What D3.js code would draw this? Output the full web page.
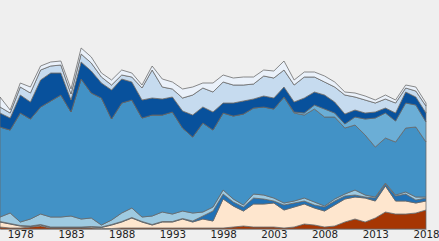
<!DOCTYPE html>
<html><head><meta charset="utf-8">
<script src="https://cdn.jsdelivr.net/npm/d3@7"></script>
<style>html,body{margin:0;padding:0;background:#efefef;}svg{display:block;}</style>
</head><body>
<svg id="chart" width="439" height="241"></svg>
<script>
const years = [1976,1977,1978,1979,1980,1981,1982,1983,1984,1985,1986,1987,1988,1989,1990,1991,1992,1993,1994,1995,1996,1997,1998,1999,2000,2001,2002,2003,2004,2005,2006,2007,2008,2009,2010,2011,2012,2013,2014,2015,2016,2017,2018];
const tickYears = [1978,1983,1988,1993,1998,2003,2008,2013,2018];

const seriesNames = ["s1","s2","s3","s4","s5","s6","s7","s8","s9"];
const s1 = [2,1,1,2,3,1,1,1,1,1,0.5,0.5,1,1,1,1,1,1,1,1,1,1,1,2,3,2,2,2,1,2,5,4,2,3,7,10,7,11,17,15,15,16,19];
const s2 = [5,4,2,0.5,1,0.5,0.5,0.5,0.5,1,1,3.5,6,10,6,3,6,6,9,6,9,7,29,21,15,23,23,24,18,20,20,17,16,21,23,22,24,17,26,13,13,10,9];
const s3 = [0.5,0.5,0.5,0.5,0.5,0.5,0.5,0.5,0.5,0.5,0.5,0.5,0.5,0.5,0.5,0.5,0.5,0.5,0.5,1,3,10,5,4,4,6,5,2,5,4,3,3,4,4,3,2,1,3,2,5,7,3,3];
const s4 = [4.5,10.5,3.5,7,10.5,10,10,11,8,8.5,2,4.5,8.5,9.5,4.5,8.5,9.5,7.5,7.5,8,4,4,4,3,2,4,4,3,2,2,3,3,1,2,2,5,2,1,1,1,2,3,1];
const s5 = [90,83,109,100,107,116,122,104,140,125,127,101,110,108,99,101,97,102,83,76,89,77,77,83,91,86,88,89,106,88,83,93,89,82,66,65,60,50,45,53,64,70,55];
const s6 = [0,0,0,0,0,0,0,0,0,0,0,0,0,0,0,0,0,0,0,0,0,0,0,0,0,0,0,0,0,1,2,4,8,4,4,8,16,29,25,21,25,22,20];
const s7 = [14,12,18,17,27,28,22,12,17,22,15,29,24,18,18,17,16,15,17,22,16,18,10,13,13,9,11,11,10,10,15,13,14,11,10,7,6,6,5,8,11,8,9];
const s8 = [6,5,8,9,10,7,8,6,8,8,6,5,4,5,12,28,12,8,13,20,19,20,21,18,16,15,20,20,17,17,21,15,13,15,19,13,13,9,9,10,4,6,7];
const s9 = [10,3,4,6,4,4,4,5,6,6,4,5,5,4,3,4,8,7,9,8,5,9,7,7,8,7,6,7,9,5,5,5,6,5,3,4,4,3,4,3,3,4,3];
const colors = ["#a63603","#fee6ce","#2171b5","#9ecae1","#4292c6","#6baed6","#08519c","#c6dbef","#eaf1fa"];

const seriesValues = [s1,s2,s3,s4,s5,s6,s7,s8,s9];
const table = years.map((yr,i) => {
  const row = {year: yr};
  seriesNames.forEach((n,k) => row[n] = seriesValues[k][i]);
  return row;
});

const svg = d3.select("#chart");
const x = d3.scaleLinear().domain([1976, 2018]).range([0, 426]);
const y = d3.scaleLinear().domain([0, 229]).range([229, 0]);

const stack = d3.stack().keys(seriesNames);
const layers = stack(table);

const area = d3.area()
  .x(d => x(d.data.year))
  .y0(d => y(d[0]))
  .y1(d => y(d[1]));

svg.append("g").selectAll("path").data(layers).join("path")
  .attr("d", area)
  .attr("fill", (d,i) => colors[i])
  .attr("stroke", "#666")
  .attr("stroke-width", 0.75)
  .attr("stroke-linejoin", "round");

const axis = d3.axisBottom(x).tickValues(tickYears).tickFormat(d3.format("d")).tickSize(0).tickPadding(2);
const g = svg.append("g").attr("transform", "translate(0,229)").call(axis);
g.select(".domain").attr("stroke", "#999").attr("stroke-width", 1);
g.selectAll("text").attr("font-family", "DejaVu Sans, Verdana, sans-serif").attr("font-size", 10.3).attr("fill", "#222");
</script>
</body></html>
